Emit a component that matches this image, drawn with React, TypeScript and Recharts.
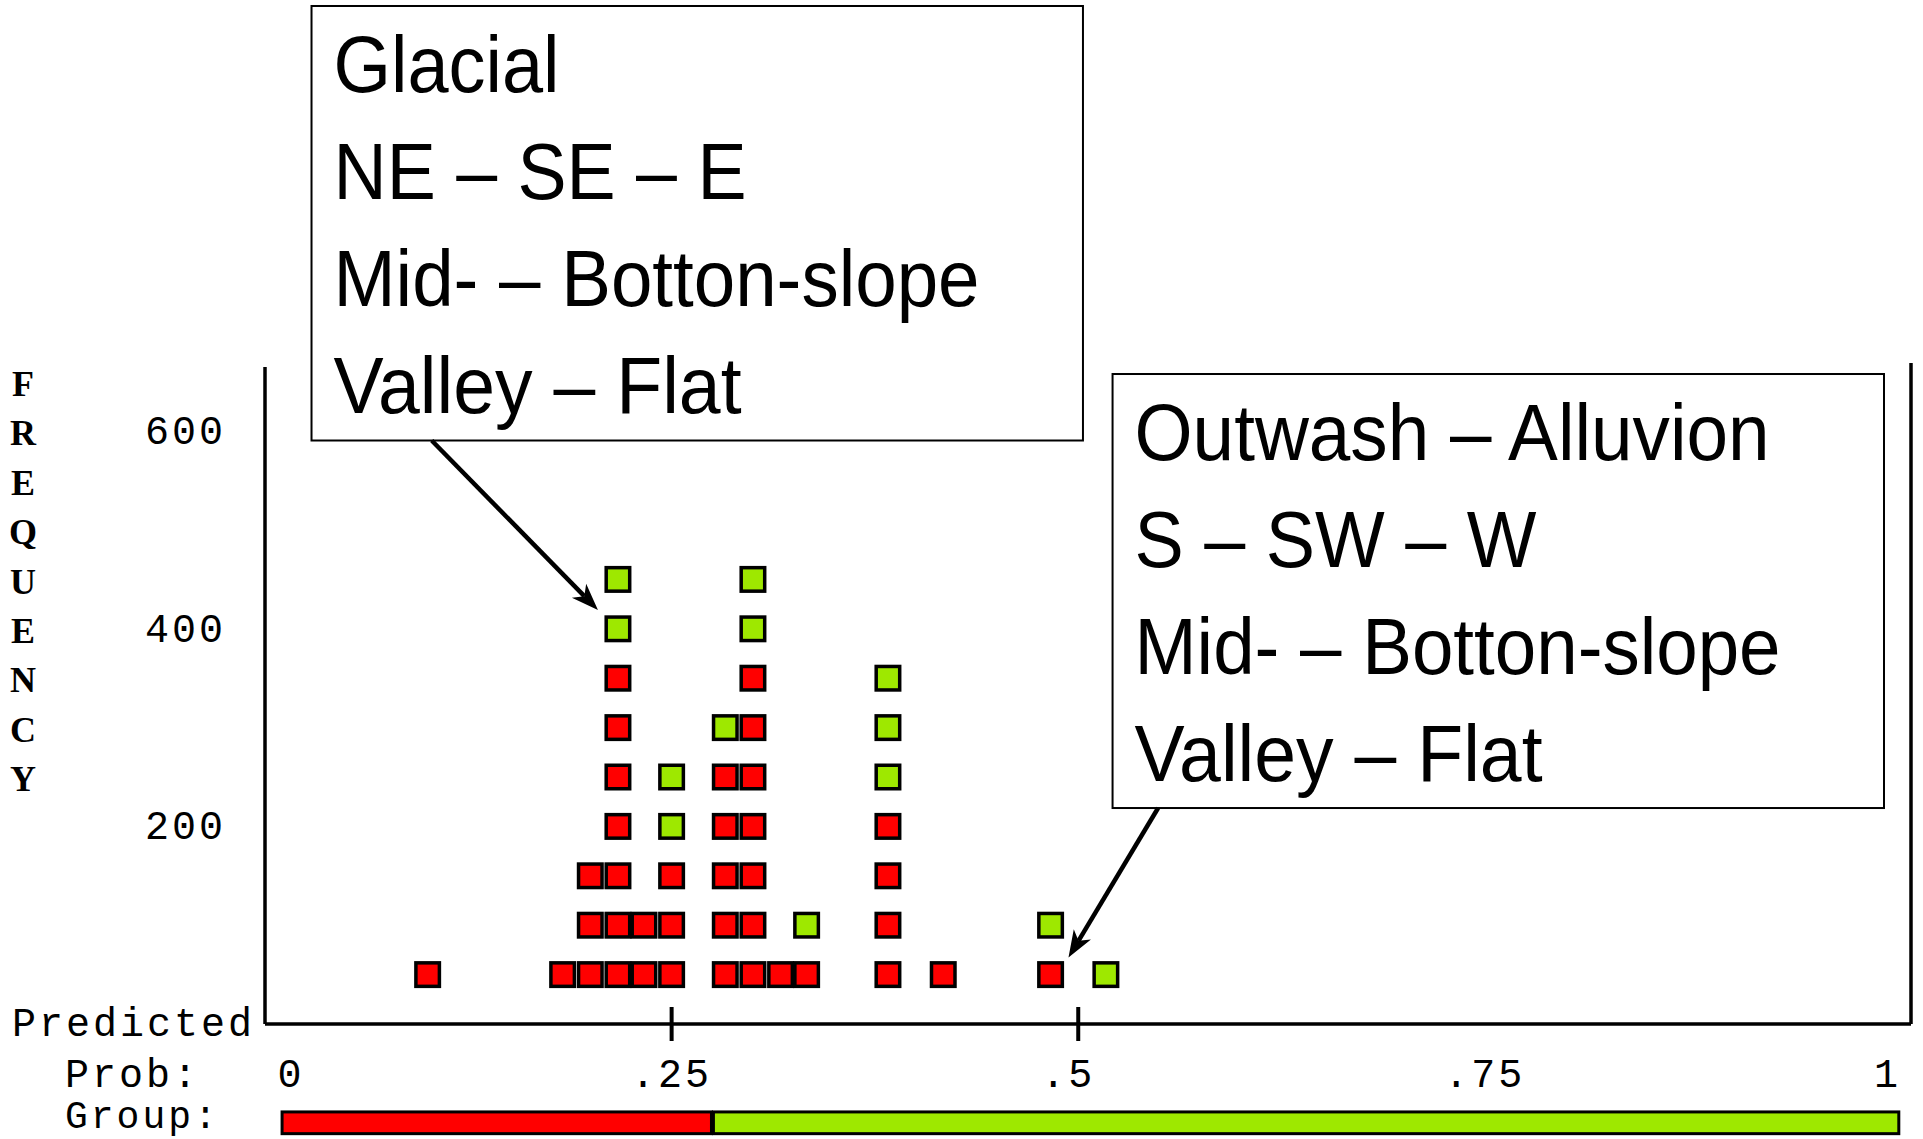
import React from 'react';
import { ScatterChart, Scatter, XAxis, YAxis, ReferenceLine, ReferenceArea } from 'recharts';

// ---- data ----
// predicted-probability bins (centre of each column of symbols)
const probBins = [0.1, 0.183, 0.2, 0.217, 0.233, 0.25, 0.283, 0.3, 0.317, 0.333, 0.383, 0.417, 0.483, 0.517];
// number of symbols per column, observed group "Glacial" (red, bottom of stack)
const glacialSymbols = [1, 1, 3, 7, 2, 3, 5, 7, 1, 1, 4, 1, 1, 0];
// number of symbols per column, observed group "Outwash" (green, top of stack)
const outwashSymbols = [0, 0, 0, 2, 0, 2, 1, 2, 0, 1, 3, 0, 1, 1];
// each symbol stands for this many cases
const casesPerSymbol = 50;

const xTicks = [0, 0.25, 0.5, 0.75, 1];
const xTickLabels = ['0', '.25', '.5', '.75', '1'];
const xTickMarks = [0.25, 0.5];
const yTicks = [200, 400, 600];
const yTickLabels = ['200', '400', '600'];

// predicted group strip (cut value)
const groupStart = 0.0105;
const cutValue = 0.2745;
const groupEnd = 1.0045;

const glacialNote = ['Glacial', 'NE \u2013 SE \u2013 E', 'Mid- \u2013 Botton-slope', 'Valley \u2013 Flat'];
const outwashNote = ['Outwash \u2013 Alluvion', 'S \u2013 SW \u2013 W', 'Mid- \u2013 Botton-slope', 'Valley \u2013 Flat'];
const glacialNoteWidths = [226, 413, 646, 408];
const outwashNoteWidths = [635, 402, 646, 408];

const freqLetters = ['F', 'R', 'E', 'Q', 'U', 'E', 'N', 'C', 'Y'];

// ---- build series from the arrays ----
type Pt = { p: number; freq: number };
const glacialPoints: Pt[] = [];
const outwashPoints: Pt[] = [];
probBins.forEach((p, i) => {
  for (let k = 1; k <= glacialSymbols[i]; k++) glacialPoints.push({ p, freq: k * casesPerSymbol });
  for (let k = 1; k <= outwashSymbols[i]; k++)
    outwashPoints.push({ p, freq: (glacialSymbols[i] + k) * casesPerSymbol });
});

const RED = '#FF0000';
const GREEN = '#9EE800';
const PIX_FONT = '"Liberation Mono", "DejaVu Sans Mono", monospace';
const NOTE_FONT = '"Liberation Sans", Arial, sans-serif';
const PIX_SPACING = 3;

const makeSquare = (fill: string) => (props: any) => {
  const { cx, cy } = props;
  if (cx == null || cy == null) return <g />;
  return (
    <rect x={cx - 11.75} y={cy - 11.75} width={23.5} height={23.5} fill={fill} stroke="#000" strokeWidth={3.5} />
  );
};

const XTick = (props: any) => {
  const { x, y, payload } = props;
  const v = payload.value;
  const idx = xTicks.indexOf(v);
  const label = idx >= 0 ? xTickLabels[idx] : String(v);
  const dx = v === 0 ? 26 : v === 0.5 ? -10 : v === 1 ? -4 : 0;
  return (
    <g>
      {xTickMarks.includes(v) && <line x1={x} x2={x} y1={y - 17} y2={y + 17} stroke="#000" strokeWidth={4} />}
      <text
        x={x + dx}
        y={y + 63}
        textAnchor="middle"
        fontFamily={PIX_FONT}
        fontSize={40}
        letterSpacing={PIX_SPACING}
        fill="#000"
      >
        {label}
      </text>
    </g>
  );
};

const YTick = (props: any) => {
  const { x, y, payload } = props;
  const idx = yTicks.indexOf(payload.value);
  return (
    <text
      x={x + 2}
      y={y + 13}
      textAnchor="end"
      fontFamily={PIX_FONT}
      fontSize={40}
      letterSpacing={PIX_SPACING}
      fill="#000"
    >
      {idx >= 0 ? yTickLabels[idx] : payload.value}
    </text>
  );
};

const Arrow = (props: any) => {
  const { x1, y1, x2, y2 } = props;
  if ([x1, y1, x2, y2].some((v) => v == null || isNaN(v))) return <g />;
  const a = Math.atan2(y2 - y1, x2 - x1);
  const c = Math.cos(a);
  const s = Math.sin(a);
  const L = 27;
  const W = 10;
  const bx = x2 - L * c;
  const by = y2 - L * s;
  const nx = x2 - L * 0.72 * c;
  const ny = y2 - L * 0.72 * s;
  const pts = [
    [x2, y2],
    [bx - W * s, by + W * c],
    [nx, ny],
    [bx + W * s, by - W * c],
  ]
    .map((q) => q.join(','))
    .join(' ');
  return (
    <g>
      <line x1={x1} y1={y1} x2={nx} y2={ny} stroke="#000" strokeWidth={4.5} />
      <polygon points={pts} fill="#000" />
    </g>
  );
};

const makeNote = (lines: string[], widths: number[]) => (props: any) => {
  const { x, y, width, height } = props;
  if ([x, y, width, height].some((v) => v == null || isNaN(v))) return <g />;
  return (
    <g>
      <rect x={x} y={y} width={width} height={height} fill="#fff" stroke="#000" strokeWidth={2} />
      {lines.map((t, i) => (
        <text
          key={i}
          x={x + 22}
          y={y + 86 + 107 * i}
          fontFamily={NOTE_FONT}
          fontSize={80}
          textLength={widths[i]}
          lengthAdjust="spacingAndGlyphs"
          fill="#000"
        >
          {t}
        </text>
      ))}
    </g>
  );
};

const GroupBand = (fill: string) => (props: any) => {
  const { x, y, width, height } = props;
  if ([x, y, width, height].some((v) => v == null || isNaN(v))) return <g />;
  return <rect x={x} y={y} width={width} height={height} fill={fill} stroke="#000" strokeWidth={3} />;
};

export default function App() {
  return (
    <div style={{ position: 'absolute', left: 0, top: 0, width: 1920, height: 1139, background: '#fff' }}>
      <ScatterChart width={1920} height={1139} margin={{ top: 367, right: 9, bottom: 0, left: 0 }}>
        <XAxis
          type="number"
          dataKey="p"
          domain={[0, 1.012]}
          ticks={xTicks}
          interval={0}
          height={115}
          tickLine={false}
          tickSize={0}
          tickMargin={0}
          axisLine={{ stroke: '#000', strokeWidth: 3.5 }}
          tick={<XTick />}
        />
        <YAxis
          type="number"
          dataKey="freq"
          domain={[0, 665]}
          ticks={yTicks}
          interval={0}
          width={265}
          tickLine={false}
          tickSize={0}
          tickMargin={41}
          axisLine={{ stroke: '#000', strokeWidth: 3.5 }}
          tick={<YTick />}
        />
        <ReferenceLine
          segment={[
            { x: 1.012, y: 0 },
            { x: 1.012, y: 669 },
          ]}
          ifOverflow="visible"
          stroke="#000"
          strokeWidth={3.5}
        />
        <ReferenceArea
          x1={groupStart}
          x2={cutValue}
          y1={-111}
          y2={-89}
          ifOverflow="visible"
          shape={GroupBand(RED)}
        />
        <ReferenceArea
          x1={cutValue + 0.0012}
          x2={groupEnd}
          y1={-111}
          y2={-89}
          ifOverflow="visible"
          shape={GroupBand(GREEN)}
        />
        <ReferenceArea x1={0.0286} x2={0.5029} y1={590.6} y2={1030.4} ifOverflow="visible" shape={makeNote(glacialNote, glacialNoteWidths)} />
        <ReferenceArea x1={0.5211} x2={0.9954} y1={218.6} y2={657.9} ifOverflow="visible" shape={makeNote(outwashNote, outwashNoteWidths)} />
        <ReferenceLine
          segment={[
            { x: 0.1025, y: 590.6 },
            { x: 0.2047, y: 419.0 },
          ]}
          ifOverflow="visible"
          shape={Arrow}
        />
        <ReferenceLine
          segment={[
            { x: 0.5491, y: 218.6 },
            { x: 0.494, y: 67.3 },
          ]}
          ifOverflow="visible"
          shape={Arrow}
        />
        <Scatter name="Glacial" data={glacialPoints} isAnimationActive={false} shape={makeSquare(RED)} />
        <Scatter name="Outwash" data={outwashPoints} isAnimationActive={false} shape={makeSquare(GREEN)} />
      </ScatterChart>
      <svg
        width={1920}
        height={1139}
        style={{ position: 'absolute', left: 0, top: 0, pointerEvents: 'none' }}
      >
        {freqLetters.map((ch, i) => (
          <text
            key={i}
            x={23}
            y={396 + 49.4 * i}
            textAnchor="middle"
            fontFamily='"Liberation Serif", serif'
            fontWeight="bold"
            fontSize={36}
            fill="#000"
          >
            {ch}
          </text>
        ))}
        <text x={12} y={1036} fontFamily={PIX_FONT} fontSize={40} letterSpacing={PIX_SPACING} fill="#000">
          Predicted
        </text>
        <text x={65} y={1087} fontFamily={PIX_FONT} fontSize={40} letterSpacing={PIX_SPACING} fill="#000">
          Prob:
        </text>
        <text x={65} y={1128} fontFamily={PIX_FONT} fontSize={38} letterSpacing={PIX_SPACING} fill="#000">
          Group:
        </text>
      </svg>
    </div>
  );
}
